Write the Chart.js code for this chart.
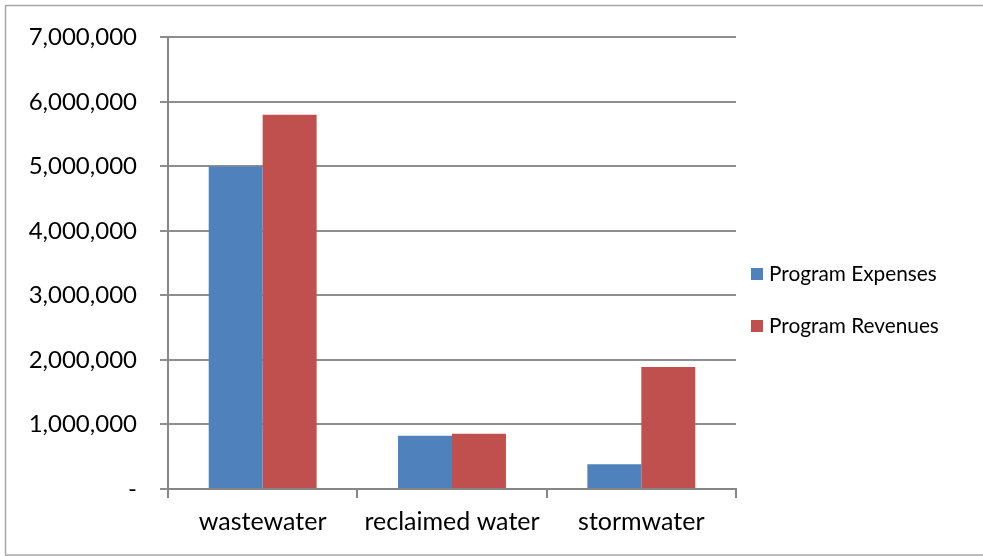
<!DOCTYPE html>
<html>
<head>
<meta charset="utf-8">
<script src="https://cdn.jsdelivr.net/npm/chart.js@4/dist/chart.umd.min.js"></script>
<style>
  html, body { margin: 0; padding: 0; background: #fff; }
  #wrap { position: relative; width: 983px; height: 556px; }
</style>
</head>
<body>
<div id="wrap"><canvas id="c" width="983" height="556"></canvas></div>
<script>
const categories = ['wastewater', 'reclaimed water', 'stormwater'];
const seriesNames = ['Program Expenses', 'Program Revenues'];
const programExpenses = [5000000, 826000, 385000];
const programRevenues = [5800000, 856000, 1890000];
const yTickLabels = ['-', '1,000,000', '2,000,000', '3,000,000', '4,000,000', '5,000,000', '6,000,000', '7,000,000'];
const seriesColors = ['#4F81BD', '#C0504D'];

const FONT = 'Lato, "Open Sans", sans-serif';

const frameAndLegend = {
  id: 'frameAndLegend',
  beforeDraw(chart) {
    const ctx = chart.ctx;
    ctx.save();
    ctx.fillStyle = '#fff';
    ctx.fillRect(0, 0, chart.width, chart.height);
    ctx.strokeStyle = '#a6a6a6';
    ctx.lineWidth = 1.5;
    ctx.strokeRect(5.5, 5.5, chart.width + 10, chart.height - 6.5);
    ctx.restore();
  },
  afterDraw(chart) {
    const ctx = chart.ctx;
    ctx.save();
    const x0 = 751, y0 = 274, gap = 52, box = 12;
    ctx.font = '20.8px ' + FONT;
    ctx.textBaseline = 'middle';
    ctx.textAlign = 'left';
    chart.data.datasets.forEach((ds, i) => {
      const y = y0 + i * gap;
      ctx.fillStyle = ds.backgroundColor;
      ctx.fillRect(x0, y - box / 2, box, box);
      ctx.fillStyle = '#000';
      ctx.fillText(ds.label, x0 + 18, y);
    });
    ctx.restore();
  }
};

new Chart(document.getElementById('c'), {
  type: 'bar',
  data: {
    labels: categories,
    datasets: [
      { label: seriesNames[0], data: programExpenses, backgroundColor: seriesColors[0] },
      { label: seriesNames[1], data: programRevenues, backgroundColor: seriesColors[1] }
    ]
  },
  options: {
    responsive: false,
    animation: false,
    devicePixelRatio: 1,
    layout: { padding: { top: 33, right: 247, bottom: 0, left: 0 } },
    plugins: {
      legend: { display: false },
      tooltip: { enabled: false }
    },
    datasets: {
      bar: { categoryPercentage: 0.57, barPercentage: 1.0 }
    },
    scales: {
      x: {
        afterFit(scale) { scale.height = 67; },
        grid: {
          offset: true,
          drawOnChartArea: false,
          drawTicks: true,
          tickLength: 9,
          color: '#868686',
          lineWidth: 2
        },
        border: { display: true, color: '#868686', width: 2 },
        ticks: {
          color: '#000',
          font: { family: FONT, size: 25 },
          padding: 9
        }
      },
      y: {
        min: 0,
        max: 7000000,
        afterFit(scale) { scale.width = 168; },
        grid: {
          drawTicks: true,
          tickLength: 8,
          color: '#8e8e8e',
          lineWidth: 2
        },
        border: { display: true, color: '#868686', width: 2 },
        ticks: {
          stepSize: 1000000,
          color: '#000',
          padding: 23,
          font: { family: FONT, size: 24 },
          callback(value, index) { return yTickLabels[index]; }
        }
      }
    }
  },
  plugins: [frameAndLegend]
});
</script>
</body>
</html>
